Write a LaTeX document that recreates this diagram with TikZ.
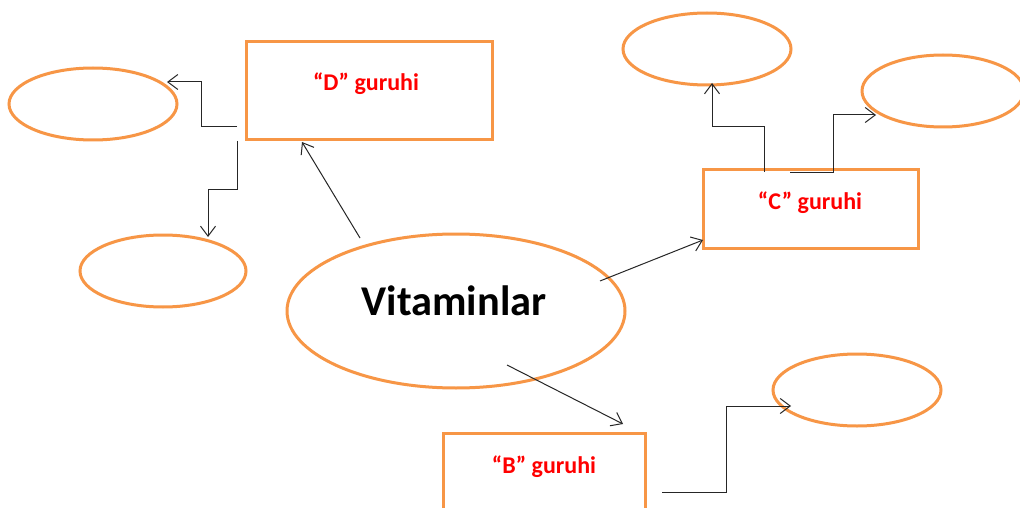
\documentclass[tikz,border=0pt]{standalone}
\usepackage{fontspec}
\setmainfont{Carlito}
\usetikzlibrary{shapes.geometric,arrows.meta}
\definecolor{ora}{HTML}{F79646}
\definecolor{lbl}{HTML}{FF0000}
\tikzset{
  oval/.style={ellipse, draw=ora, line width=3pt, inner sep=0pt},
  gbox/.style={rectangle, draw=ora, line width=3pt, inner sep=0pt},
  grp/.style={text=lbl, font=\bfseries\fontsize{24}{28}\selectfont, inner sep=0pt},
  conn/.style={draw=black!85, line width=1pt, -{Straight Barb[length=10pt,width=15pt]}}
}
\begin{document}
\begin{tikzpicture}[x=1pt,y=-1pt]
\clip (0,0) rectangle (1020,508);
\fill[white] (0,0) rectangle (1020,508);
% main ellipse
\node[oval, minimum width=338pt, minimum height=154pt] (vit) at (456,311) {};
\node[font=\bfseries\fontsize{42.4}{48}\selectfont, inner sep=0pt] (vitt) at (454,300.5) {Vitaminlar};
% boxes
\node[gbox, minimum width=246pt, minimum height=98pt] (dbox) at (369,91) {};
\node[grp] (dlab) at (366,84) {“D” guruhi};
\node[gbox, minimum width=215pt, minimum height=79pt] (cbox) at (810.5,208.5) {};
\node[grp] (clab) at (810,203) {“C” guruhi};
\node[gbox, minimum width=202pt, minimum height=120pt] (bbox) at (544,493) {};
\node[grp] (blab) at (544,467) {“B” guruhi};
% small ellipses
\node[oval, minimum width=168pt, minimum height=72pt] (d1) at (93,104) {};
\node[oval, minimum width=166pt, minimum height=72pt] (d2) at (163,271) {};
\node[oval, minimum width=168pt, minimum height=72pt] (c1) at (707,49) {};
\node[oval, minimum width=162pt, minimum height=72pt] (c2) at (943,91) {};
\node[oval, minimum width=168pt, minimum height=72pt] (b1) at (857,390) {};
% connector coordinates
\coordinate (vd) at (360,238);
\coordinate (dt) at (302,142);
\coordinate (vc) at (600,281);
\coordinate (ct) at (703,240);
\coordinate (vb) at (507,365);
\coordinate (bt) at (623,424);
\coordinate (da) at (237,127);
\coordinate (d1t) at (167,82);
\coordinate (db) at (237,141);
\coordinate (d2t) at (208,237);
\coordinate (ca) at (764,172);
\coordinate (c1t) at (712,83);
\coordinate (cb) at (790,172);
\coordinate (c2t) at (876,115);
\coordinate (ba) at (662,492);
\coordinate (b1t) at (791,406);
% main arrows
\draw[conn] (vd) -- (dt);
\draw[conn] (vc) -- (ct);
\draw[conn] (vb) -- (bt);
% elbow arrows
\draw[conn] (da) -- (201,127) -- (201,82) -- (d1t);
\draw[conn] (db) -- (237,189) -- (208,189) -- (d2t);
\draw[conn] (ca) -- (764,127) -- (712,127) -- (c1t);
\draw[conn] (cb) -- (833,172) -- (833,115) -- (c2t);
\draw[conn] (ba) -- (726,492) -- (726,406) -- (b1t);
\end{tikzpicture}
\end{document}
